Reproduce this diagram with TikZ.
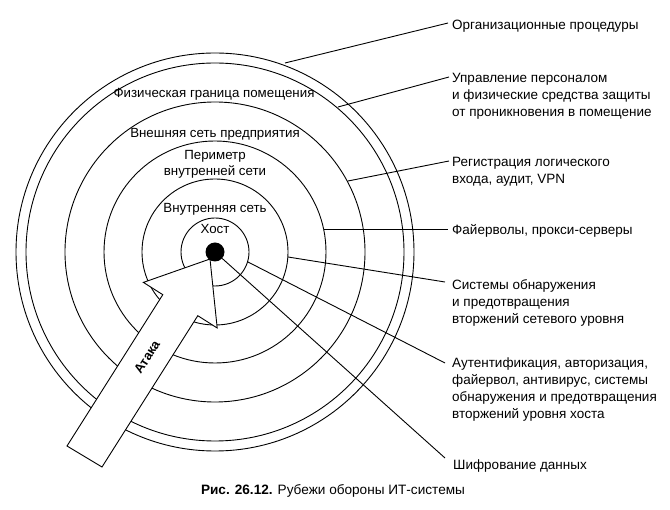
\documentclass[tikz,border=0pt]{standalone}
\usepackage{fontspec}
\setmainfont{Liberation Sans}
\begin{document}
\begin{tikzpicture}[x=1pt,y=-1pt,
  ring/.style={draw=black,line width=0.9pt},
  leader/.style={draw=black,line width=0.9pt},
  lbl/.style={font=\fontsize{13.5}{17}\selectfont,align=left,anchor=north west,inner sep=0pt},
  inlbl/.style={font=\fontsize{13.3}{16}\selectfont,align=center,inner sep=0pt,fill=none}]
\useasboundingbox (0,0) rectangle (670,510);
\coordinate (c) at (215,252);
% rings
\foreach \r in {199,189,150,111,73,34}{\draw[ring] (c) circle (\r pt);}
% inner labels
\node[inlbl] (l1) at (214,94) {Физическая граница помещения};
\node[inlbl] (l2) at (215,134) {Внешняя сеть предприятия};
\node[inlbl] (l3) at (215,164) {Периметр\\внутренней сети};
\node[inlbl] (l4) at (215,209) {Внутренняя сеть};
\node[inlbl] (l5) at (215,229) {Хост};
% attack arrow
\draw[line width=0.9pt,fill=white] (67,446) -- (102,467) -- (197.8,315.7) -- (217.2,328) -- (210,259)
  -- (143.4,282.4) -- (162.8,294.7) -- cycle;
\node[font=\fontsize{13}{15}\selectfont\bfseries,rotate=57.7,inner sep=0pt] (atk) at (147,357) {Атака};
% host dot
\node[circle,fill=black,minimum size=19pt,inner sep=0pt] (dot) at (c) {};
% leader start points on rings
\coordinate (s1) at (285,63);
\coordinate (s2) at (338,107);
\coordinate (s3) at (348,181);
\coordinate (s4) at (324,229);
\coordinate (s5) at (288,257);
\coordinate (s6) at (248,262);
% leader end points
\coordinate (e1) at (448,23);
\coordinate (e2) at (449,77);
\coordinate (e3) at (449,161);
\coordinate (e4) at (448,229);
\coordinate (e5) at (445,282);
\coordinate (e6) at (445,363);
\coordinate (e7) at (445,458);
\draw[leader] (s1) -- (e1);
\draw[leader] (s2) -- (e2);
\draw[leader] (s3) -- (e3);
\draw[leader] (s4) -- (e4);
\draw[leader] (s5) -- (e5);
\draw[leader] (s6) -- (e6);
\draw[leader] (dot) -- (e7);
% right labels
\node[lbl] (t1) at (452,20) {Организационные процедуры};
\node[lbl] (t2) at (452,73) {Управление персоналом\\и физические средства защиты\\от проникновения в помещение};
\node[lbl] (t3) at (452,157) {Регистрация логического\\входа, аудит, VPN};
\node[lbl] (t4) at (452,224) {Файерволы, прокси-серверы};
\node[lbl] (t5) at (452,279) {Системы обнаружения\\и предотвращения\\вторжений сетевого уровня};
\node[lbl] (t6) at (452,358) {Аутентификация, авторизация,\\файервол, антивирус, системы\\обнаружения и предотвращения\\вторжений уровня хоста};
\node[lbl] (t7) at (453,460) {Шифрование данных};
% caption
\node[font=\fontsize{13.6}{15}\selectfont,inner sep=0pt] (cap) at (333,491) {\textbf{Рис. 26.12.} Рубежи обороны ИТ-системы};
\end{tikzpicture}
\end{document}
